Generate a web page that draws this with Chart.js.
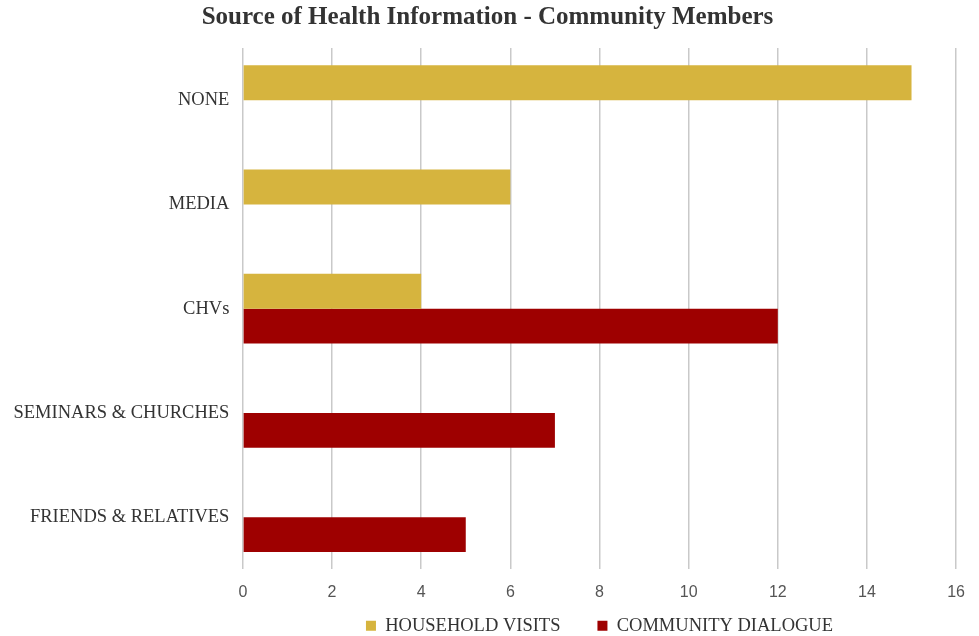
<!DOCTYPE html>
<html>
<head>
<meta charset="utf-8">
<script src="https://cdn.jsdelivr.net/npm/chart.js@4/dist/chart.umd.min.js"></script>
<style>
  html, body { margin: 0; padding: 0; background: #fff; }
  #wrap { width: 979px; height: 636px; }
</style>
</head>
<body>
<div id="wrap"><canvas id="barChart"></canvas></div>
<script>
const categories = ['NONE', 'MEDIA', 'CHVs', 'SEMINARS & CHURCHES', 'FRIENDS & RELATIVES'];
const householdVisits = [15, 6, 4, 0, 0];
const communityDialogue = [0, 0, 12, 7, 5];
const xTicks = [0, 2, 4, 6, 8, 10, 12, 14, 16];

const serif = "'Liberation Serif', 'Times New Roman', serif";

new Chart(document.getElementById('barChart'), {
    type: 'bar',
    data: {
        labels: categories,
        datasets: [
            {
                label: 'HOUSEHOLD VISITS',
                data: householdVisits,
                backgroundColor: '#D6B43E'
            },
            {
                label: 'COMMUNITY DIALOGUE',
                data: communityDialogue,
                backgroundColor: '#9E0000'
            }
        ]
    },
    options: {
        indexAxis: 'y',
        responsive: true,
        maintainAspectRatio: false,
        animation: false,
        categoryPercentage: 0.67,
        barPercentage: 1,
        layout: {
            padding: { left: 0, right: 4, top: 2, bottom: -9 }
        },
        scales: {
            x: {
                min: 0,
                max: 16,
                afterBuildTicks: function (axis) {
                    axis.ticks = xTicks.map(v => ({ value: v }));
                },
                grid: {
                    color: '#c9c9c9',
                    lineWidth: 1.5,
                    drawTicks: false
                },
                border: { display: false },
                ticks: {
                    padding: 14,
                    color: '#555',
                    font: { family: "'Liberation Sans Narrow', 'Liberation Sans', sans-serif", size: 16 }
                }
            },
            y: {
                grid: { display: false, drawTicks: false },
                border: { display: false },
                ticks: {
                    padding: 13.5,
                    color: '#333',
                    font: { family: serif, size: 18.5 }
                }
            }
        },
        plugins: {
            title: {
                display: true,
                text: 'Source of Health Information - Community Members',
                color: '#333',
                font: { family: serif, size: 25, weight: 'bold' },
                padding: { top: 1, bottom: 15 }
            },
            legend: {
                position: 'bottom',
                fullSize: false,
                labels: {
                    color: '#333',
                    boxWidth: 10,
                    boxHeight: 10,
                    padding: 0,
                    font: { family: serif, size: 18.5 },
                    generateLabels: function (chart) {
                        const items = Chart.defaults.plugins.legend.labels.generateLabels(chart);
                        // space between the two entries
                        items[0].text = items[0].text + '\u2003\u2003';
                        return items;
                    }
                }
            },
            tooltip: { enabled: false }
        }
    }
});
</script>
</body>
</html>
